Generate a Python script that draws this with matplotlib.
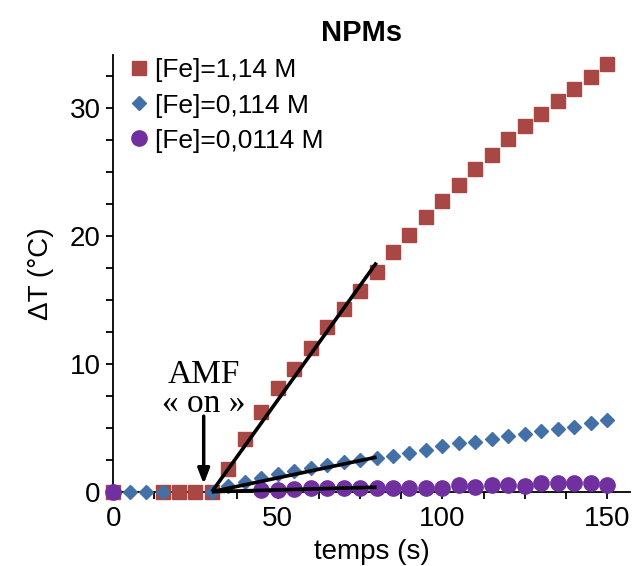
import matplotlib
matplotlib.use("Agg")
import matplotlib.pyplot as plt
from matplotlib.ticker import MultipleLocator

plt.rcParams['font.family'] = ['Liberation Sans', 'DejaVu Sans']

# Data
t_fe114 = [0, 15, 20, 25, 30, 35, 40, 45, 50, 55, 60, 65, 70, 75, 80, 85, 90, 95,
           100, 105, 110, 115, 120, 125, 130, 135, 140, 145, 150]
dT_fe114 = [0, 0, 0, 0, 0, 1.8, 4.15, 6.2, 8.1, 9.55, 11.2, 12.85, 14.25, 15.7, 17.2,
            18.7, 20.05, 21.45, 22.7, 24.0, 25.2, 26.3, 27.55, 28.6, 29.5, 30.5,
            31.5, 32.4, 33.4]

t_fe0114 = [0, 5, 10, 15, 30, 35, 40, 45, 50, 55, 60, 65, 70, 75, 80, 85, 90, 95,
            100, 105, 110, 115, 120, 125, 130, 135, 140, 145, 150]
dT_fe0114 = [0, 0, 0, 0, 0, 0.45, 0.75, 1.05, 1.36, 1.62, 1.88, 2.09, 2.3, 2.48, 2.6,
             2.8, 3.0, 3.27, 3.6, 3.79, 3.92, 4.08, 4.36, 4.49, 4.78, 4.89, 5.09,
             5.4, 5.61]

t_fe00114 = [0, 45, 50, 55, 60, 65, 70, 75, 80, 85, 90, 95, 100, 105, 110, 115,
             120, 125, 130, 135, 140, 145, 150]
dT_fe00114 = [0, 0.13, 0.13, 0.19, 0.27, 0.27, 0.27, 0.27, 0.27, 0.31, 0.31, 0.31,
              0.31, 0.5, 0.39, 0.52, 0.52, 0.47, 0.66, 0.66, 0.7, 0.7, 0.52]

labels = ['[Fe]=1,14 M', '[Fe]=0,114 M', '[Fe]=0,0114 M']
colors = ['#A94744', '#4470A8', '#7030A0']

# Linear fits drawn as segments (start, end)
fit_t = [30, 80]
fit_1 = [0, 17.9]
fit_2 = [0, 2.7]
fit_3 = [0, 0.35]

fig = plt.figure(figsize=(6.32, 5.66), dpi=100)
ax = fig.add_axes([0.179, 0.1313, 0.818, 0.771])

ax.plot(t_fe114, dT_fe114, ls='none', marker='s', ms=10, color=colors[0],
        label=labels[0], clip_on=False, zorder=3)
ax.plot(t_fe0114, dT_fe0114, ls='none', marker='D', ms=7.5, color=colors[1],
        label=labels[1], clip_on=False, zorder=4)
ax.plot(t_fe00114, dT_fe00114, ls='none', marker='o', ms=11, color=colors[2],
        label=labels[2], clip_on=False, zorder=5)

for fy in (fit_1, fit_2, fit_3):
    ax.plot(fit_t, fy, color='black', lw=2.6, solid_capstyle='butt', zorder=6,
            clip_on=False)

ax.annotate('', xy=(27.5, 0.6), xytext=(27.5, 5.9),
            arrowprops=dict(arrowstyle='-|>,head_width=0.35,head_length=0.9',
                            color='black', lw=2.5, shrinkA=0, shrinkB=0),
            zorder=7)
ax.text(27.4, 9.1, 'AMF', ha='center', va='center', fontsize=24,
        family=['Liberation Serif', 'DejaVu Serif'])
ax.text(27.4, 6.9, '\u00ab on \u00bb', ha='center', va='center', fontsize=24,
        family=['Liberation Serif', 'DejaVu Serif'])

ax.set_xlim(0, 157)
ax.set_ylim(0, 34.1)
ax.xaxis.set_major_locator(MultipleLocator(50))
ax.xaxis.set_minor_locator(MultipleLocator(12.5))
ax.yaxis.set_major_locator(MultipleLocator(10))
ax.yaxis.set_minor_locator(MultipleLocator(2.5))

for s in ('top', 'right'):
    ax.spines[s].set_visible(False)
for s in ('left', 'bottom'):
    ax.spines[s].set_linewidth(1.3)

ax.tick_params(axis='both', which='both', direction='out', length=5, width=1.3,
               labelsize=20)
ax.tick_params(axis='y', which='both', pad=4)
ax.tick_params(axis='x', which='both', pad=5)

ax.set_title('NPMs', fontsize=21, fontweight='bold', pad=10, x=0.48)
ax.set_xlabel('temps (s)', fontsize=20, labelpad=5)
ax.set_ylabel('\u0394T (\u00b0C)', fontsize=20, labelpad=11)

ax.legend(loc='upper left', bbox_to_anchor=(-0.013, 1.035), frameon=False,
          fontsize=19, handletextpad=0.05, handlelength=1.1, borderaxespad=0.3,
          labelspacing=0.42, markerscale=1.0)

fig.savefig('out.png', dpi=100)
